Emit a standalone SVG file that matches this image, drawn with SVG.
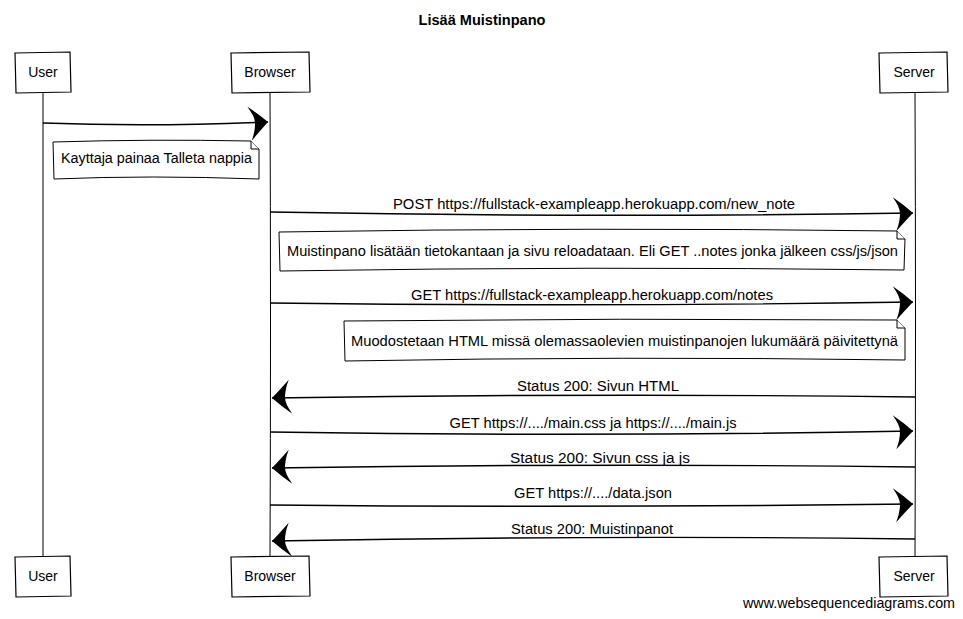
<svg xmlns="http://www.w3.org/2000/svg" width="963" height="619" viewBox="0 0 963 619">
<style>
text{font-family:"Liberation Sans",Arial,sans-serif;font-size:14px;fill:#000}
.title{font-weight:bold;font-size:14px}
.box{fill:#fff;stroke:#000;stroke-width:1.2}
.life{fill:none;stroke:#000;stroke-width:1}
.msg{fill:none;stroke:#000;stroke-width:1.4}
.note{fill:#fff;stroke:#000;stroke-width:1}
.fold{fill:#fff;stroke:#000;stroke-width:1}
.mid{text-anchor:middle}
</style>
<defs>
<marker id="head" markerUnits="userSpaceOnUse" markerWidth="30" markerHeight="40" viewBox="-24 -20 26 40" refX="0" refY="0" orient="auto">
<path d="M0,0 Q-10,-9 -20,-16 Q-13,-6 -13,0 Q-13,8 -17,18 Q-7,7 0,0 Z" fill="#000"/>
</marker>
</defs>
<rect width="963" height="619" fill="#fff"/>
<text class="title mid" x="482" y="25" textLength="127" lengthAdjust="spacingAndGlyphs">Lisää Muistinpano</text>

<g id="lifelines">
<path class="life" d="M43,92 L43,556"/>
<path class="life" d="M270,92 Q271,320 270,556"/>
<path class="life" d="M915,92 Q916,320 915,556"/>
</g>

<g id="user-top"><path class="box" d="M15,53 L70,52 L71,92 L16,93 Z"/><text class="mid" x="43" y="77">User</text></g>
<g id="browser-top"><path class="box" d="M231,53 L309,52 L310,92 L232,93 Z"/><text class="mid" x="270" y="77">Browser</text></g>
<g id="server-top"><path class="box" d="M879,53 L947,52 L948,92 L880,93 Z"/><text class="mid" x="914" y="77">Server</text></g>
<g id="user-bottom"><path class="box" d="M15,557 L70,556 L71,596 L16,597 Z"/><text class="mid" x="43" y="581">User</text></g>
<g id="browser-bottom"><path class="box" d="M231,557 L309,556 L310,596 L232,597 Z"/><text class="mid" x="270" y="581">Browser</text></g>
<g id="server-bottom"><path class="box" d="M879,557 L947,556 L948,596 L880,597 Z"/><text class="mid" x="914" y="581">Server</text></g>

<g id="connectors">
<path class="msg" d="M43,123 Q150,127 268,122" marker-end="url(#head)"/>
<path class="msg" d="M270,212 Q590,218 913,213" marker-end="url(#head)"/>
<text class="mid" x="594" y="209" textLength="402" lengthAdjust="spacingAndGlyphs">POST https://fullstack-exampleapp.herokuapp.com/new_note</text>
<path class="msg" d="M270,303 Q590,307 913,302" marker-end="url(#head)"/>
<text class="mid" x="592" y="300" textLength="362" lengthAdjust="spacingAndGlyphs">GET https://fullstack-exampleapp.herokuapp.com/notes</text>
<path class="msg" d="M915,397 Q600,393 272,398" marker-end="url(#head)"/>
<text class="mid" x="598" y="391" textLength="162" lengthAdjust="spacingAndGlyphs">Status 200: Sivun HTML</text>
<path class="msg" d="M270,432 Q590,437 913,431" marker-end="url(#head)"/>
<text class="mid" x="593" y="428" textLength="287" lengthAdjust="spacingAndGlyphs">GET https://..../main.css ja https://..../main.js</text>
<path class="msg" d="M915,467 Q600,463 272,468" marker-end="url(#head)"/>
<text class="mid" x="600" y="463" textLength="180" lengthAdjust="spacingAndGlyphs">Status 200: Sivun css ja js</text>
<path class="msg" d="M270,505 Q590,508 913,504" marker-end="url(#head)"/>
<text class="mid" x="593" y="498" textLength="158" lengthAdjust="spacingAndGlyphs">GET https://..../data.json</text>
<path class="msg" d="M915,539 Q600,535 272,541" marker-end="url(#head)"/>
<text class="mid" x="592" y="534" textLength="162" lengthAdjust="spacingAndGlyphs">Status 200: Muistinpanot</text>
</g>

<g id="note1">
<path class="note" d="M53,142 Q150,139 251,141 L259,149 L259,179 Q150,175 54,179 Z"/>
<path class="fold" d="M251,141 L251,149 L259,149"/>
<text x="61" y="163" textLength="191" lengthAdjust="spacingAndGlyphs">Kayttaja painaa Talleta nappia</text>
</g>
<g id="note2">
<path class="note" d="M279,232 Q590,227 897,231 L905,239 L904,270 Q590,266 280,271 Z"/>
<path class="fold" d="M897,231 L897,239 L905,239"/>
<text x="287" y="256" textLength="611" lengthAdjust="spacingAndGlyphs">Muistinpano lisätään tietokantaan ja sivu reloadataan. Eli GET ..notes jonka jälkeen css/js/json</text>
</g>
<g id="note3">
<path class="note" d="M344,321 Q620,318 897,320 L905,328 L905,360 Q620,356 345,361 Z"/>
<path class="fold" d="M897,320 L897,328 L905,328"/>
<text x="351" y="346" textLength="547" lengthAdjust="spacingAndGlyphs">Muodostetaan HTML missä olemassaolevien muistinpanojen lukumäärä päivitettynä</text>
</g>

<text x="955" y="608" text-anchor="end" textLength="212" lengthAdjust="spacingAndGlyphs">www.websequencediagrams.com</text>
</svg>
